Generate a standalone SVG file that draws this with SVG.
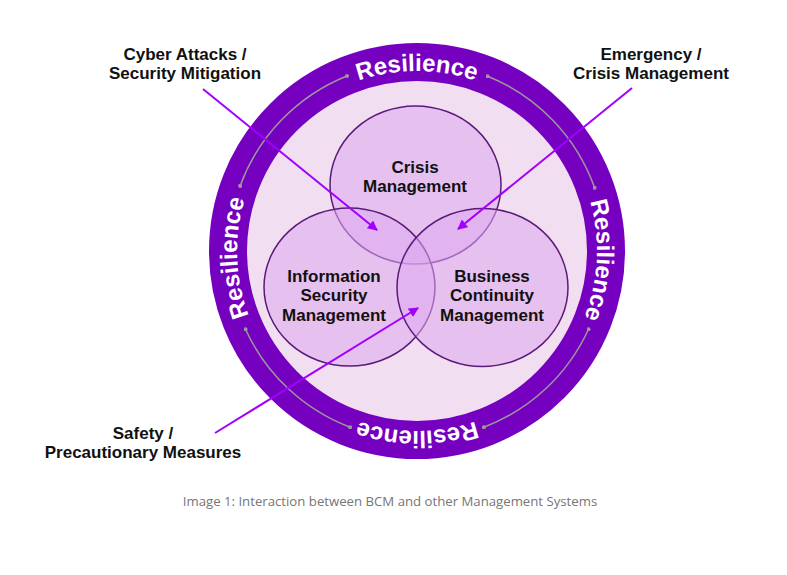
<svg xmlns="http://www.w3.org/2000/svg" xmlns:xlink="http://www.w3.org/1999/xlink" width="787" height="575" viewBox="0 0 787 575">
<style>
.lbl{font-family:"Liberation Sans",Arial,sans-serif;font-weight:bold;font-size:17px;fill:#111;text-anchor:middle}
.res{font-family:"Liberation Sans",Arial,sans-serif;font-weight:bold;font-size:24px;fill:#fff;text-anchor:middle}
.venn{fill:#dca8ee;fill-opacity:0.55;stroke:#5a1a7a;stroke-width:1.5}
.garc{fill:none;stroke:#9a9a9a;stroke-width:1.5;marker-start:url(#dot);marker-end:url(#dot)}
.arr{fill:none;stroke:#a100ff;stroke-width:2;marker-end:url(#ah)}
.cap{font-family:"Open Sans","Liberation Sans",sans-serif;font-size:13.2px;fill:#767676;text-anchor:middle}
</style>
<defs>
<marker id="dot" viewBox="0 0 4 4" refX="2" refY="2" markerWidth="4" markerHeight="4" markerUnits="userSpaceOnUse">
<circle cx="2" cy="2" r="2" fill="#9a9a9a"/>
</marker>
<marker id="ah" viewBox="0 0 10 10" refX="9" refY="5" markerWidth="10" markerHeight="10" markerUnits="userSpaceOnUse" orient="auto">
<path d="M0,0 L10,5 L0,10 z" fill="#a100ff"/>
</marker>
<path id="rpath" d="M544.28,378.28 A180,180 0 1 1 289.72,123.72 A180,180 0 1 1 544.28,378.28"/>
</defs>
<rect width="787" height="575" fill="#fff"/>
<g id="ring">
<circle cx="417" cy="251" r="189" fill="#f1def0" stroke="#7500c0" stroke-width="38"/>
</g>
<g id="resilience">
<path class="garc" d="M240.1,185.9 A188.5,188.5 0 0 1 347,76"/>
<path class="garc" d="M487.6,76.2 A188.5,188.5 0 0 1 594.6,187.8"/>
<path class="garc" d="M588.5,329.2 A188.5,188.5 0 0 1 483.9,427.2"/>
<path class="garc" d="M350.1,427.2 A188.5,188.5 0 0 1 245.5,329.2"/>
<text class="res"><textPath xlink:href="#rpath" href="#rpath" startOffset="12.5%">Resilience</textPath></text>
<text class="res"><textPath xlink:href="#rpath" href="#rpath" startOffset="36.9%">Resilience</textPath></text>
<text class="res"><textPath xlink:href="#rpath" href="#rpath" startOffset="62.5%">Resilience</textPath></text>
<text class="res"><textPath xlink:href="#rpath" href="#rpath" startOffset="88.3%">Resilience</textPath></text>
</g>
<g id="crisis">
<ellipse class="venn" cx="415.5" cy="185" rx="85.5" ry="79"/>
</g>
<g id="infosec">
<ellipse class="venn" cx="349.5" cy="287" rx="85.5" ry="79"/>
</g>
<g id="bcm">
<ellipse class="venn" cx="482.5" cy="287.5" rx="85.5" ry="79"/>
</g>
<g id="venn-labels">
<text class="lbl" x="415" y="173">Crisis</text>
<text class="lbl" x="415" y="192">Management</text>
<text class="lbl" x="334" y="282">Information</text>
<text class="lbl" x="334" y="301">Security</text>
<text class="lbl" x="334" y="321">Management</text>
<text class="lbl" x="492" y="282">Business</text>
<text class="lbl" x="492" y="301">Continuity</text>
<text class="lbl" x="492" y="321">Management</text>
</g>
<g id="connectors">
<line class="arr" x1="203" y1="89" x2="377" y2="230"/>
<line class="arr" x1="632" y1="88" x2="458" y2="229"/>
<line class="arr" x1="215" y1="433" x2="418" y2="308"/>
</g>
<g id="cyber">
<text class="lbl" x="185" y="60">Cyber Attacks /</text>
<text class="lbl" x="185" y="79">Security Mitigation</text>
</g>
<g id="emergency">
<text class="lbl" x="651" y="60">Emergency /</text>
<text class="lbl" x="651" y="79">Crisis Management</text>
</g>
<g id="safety">
<text class="lbl" x="143" y="439">Safety /</text>
<text class="lbl" x="143" y="458">Precautionary Measures</text>
</g>
<text class="cap" x="390" y="506">Image 1: Interaction between BCM and other Management Systems</text>
</svg>
